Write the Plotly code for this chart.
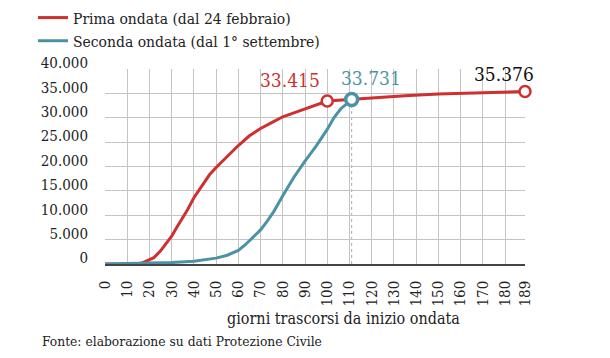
import plotly.graph_objects as go

# ---- data ----
red_days = [0, 10, 15, 17, 20, 22, 25, 28, 30, 32, 35, 37, 40, 42, 45, 47, 50, 53, 56, 60,
            65, 70, 75, 80, 85, 90, 95, 100, 105, 111, 120, 135, 150, 165, 180, 189]
red_vals = [0, 0, 50, 270, 800, 1300, 2700, 4400, 5700, 7300, 9500, 11000, 13600, 15000,
            17100, 18300, 19800, 21200, 22600, 24300, 26300, 27800, 29000, 30200, 31000,
            31800, 32500, 33415, 33600, 33800, 34100, 34500, 34850, 35050, 35250, 35376]
teal_days = [0, 10, 20, 30, 40, 45, 50, 55, 60, 63, 66, 70, 73, 76, 80, 85, 90, 95, 100,
             103, 106, 109, 111]
teal_vals = [0, 50, 150, 300, 550, 800, 1200, 1800, 2800, 3900, 5200, 7000, 8800, 10800,
             14000, 17800, 21100, 24200, 27600, 30000, 31800, 33000, 33731]
red_mark_day = 100
red_mark_val = 33415
red_name = "Prima ondata (dal 24 febbraio)"
teal_name = "Seconda ondata (dal 1° settembre)"
x_ticks = list(range(0, 181, 10)) + [189]
y_ticks = [0, 5000, 10000, 15000, 20000, 25000, 30000, 35000, 40000]
y_tick_labels = ["0", "5.000", "10.000", "15.000", "20.000", "25.000", "30.000", "35.000", "40.000"]
x_title = "giorni trascorsi da inizio ondata"
source = "Fonte: elaborazione su dati Protezione Civile"

RED = "#cf2f2f"
TEAL = "#4b93a3"
FONT = "DejaVu Serif Condensed, DejaVu Serif"
TXT = "#222222"


def fmt(v):
    return f"{v:,}".replace(",", ".")


W, H = 610, 358
L, R, T, B = 105, 85, 69, 94

fig = go.Figure()
fig.add_trace(go.Scatter(x=red_days, y=red_vals, mode="lines", name=red_name,
                         line=dict(color=RED, width=3)))
fig.add_trace(go.Scatter(x=teal_days, y=teal_vals, mode="lines", name=teal_name,
                         line=dict(color=TEAL, width=3)))

fig.add_shape(type="line", x0=teal_days[-1], x1=teal_days[-1], y0=0, y1=teal_vals[-1],
              line=dict(color="#aaaaaa", width=1, dash="dot"), layer="below")

fig.add_trace(go.Scatter(x=[red_mark_day, red_days[-1]], y=[red_mark_val, red_vals[-1]],
                         mode="markers", showlegend=False, cliponaxis=False,
                         marker=dict(size=11, color="white", line=dict(color=RED, width=2.5))))
fig.add_trace(go.Scatter(x=[teal_days[-1]], y=[teal_vals[-1]],
                         mode="markers", showlegend=False, cliponaxis=False,
                         marker=dict(size=12, color="white", line=dict(color=TEAL, width=3.5))))

fig.add_annotation(x=red_mark_day, y=red_mark_val, text=fmt(red_mark_val), showarrow=False,
                   xanchor="right", yanchor="middle", xshift=-5, yshift=21,
                   font=dict(family=FONT, size=19, color=RED))
fig.add_annotation(x=teal_days[-1], y=teal_vals[-1], text=fmt(teal_vals[-1]), showarrow=False,
                   xanchor="center", yanchor="middle", xshift=19, yshift=22,
                   font=dict(family=FONT, size=19, color=TEAL))
fig.add_annotation(x=red_days[-1], y=red_vals[-1], text=fmt(red_vals[-1]), showarrow=False,
                   xanchor="right", yanchor="middle", xshift=11, yshift=18,
                   font=dict(family=FONT, size=19, color="#111111"))


def px(xp, yp):
    return (xp - L) / (W - L - R), (H - B - yp) / (H - T - B)

ax_, ay_ = px(343, 318)
fig.add_annotation(x=ax_, y=ay_, xref="paper", yref="paper", text=x_title, showarrow=False,
                   xanchor="center", yanchor="middle",
                   font=dict(family=FONT, size=16, color=TXT))
sx_, sy_ = px(40, 341)
fig.add_annotation(x=sx_, y=sy_, xref="paper", yref="paper", text=source, showarrow=False,
                   xanchor="left", yanchor="middle",
                   font=dict(family=FONT, size=13.7, color=TXT))

fig.update_layout(
    width=W, height=H,
    margin=dict(l=L, r=R, t=T, b=B, pad=0, autoexpand=False),
    paper_bgcolor="white", plot_bgcolor="white",
    font=dict(family=FONT, size=15, color=TXT),
    showlegend=True,
    legend=dict(xref="container", yref="container", x=33 / W, y=1 - 1 / H,
                xanchor="left", yanchor="top", bgcolor="rgba(0,0,0,0)",
                font=dict(family=FONT, size=15.5, color=TXT), tracegroupgap=0,
                itemwidth=30),
    xaxis=dict(range=[0, 189], tickmode="array", tickvals=x_ticks,
               ticktext=[str(v) for v in x_ticks], tickangle=-90,
               showgrid=True, gridcolor="#c4c4c4", gridwidth=1, zeroline=False,
               showline=True, linecolor="#444444", linewidth=1.5,
               ticks="outside", ticklen=9, tickcolor="rgba(0,0,0,0)",
               tickfont=dict(family=FONT, size=15, color=TXT)),
    yaxis=dict(range=[0, 40000], tickmode="array", tickvals=y_ticks, ticktext=y_tick_labels,
               showgrid=True, gridcolor="#c4c4c4", gridwidth=1, zeroline=False,
               showline=False, ticks="outside", ticklen=13, tickcolor="rgba(0,0,0,0)",
               ticklabelshift=-6,
               tickfont=dict(family=FONT, size=15, color=TXT)),
)

fig.write_html("out.html")
